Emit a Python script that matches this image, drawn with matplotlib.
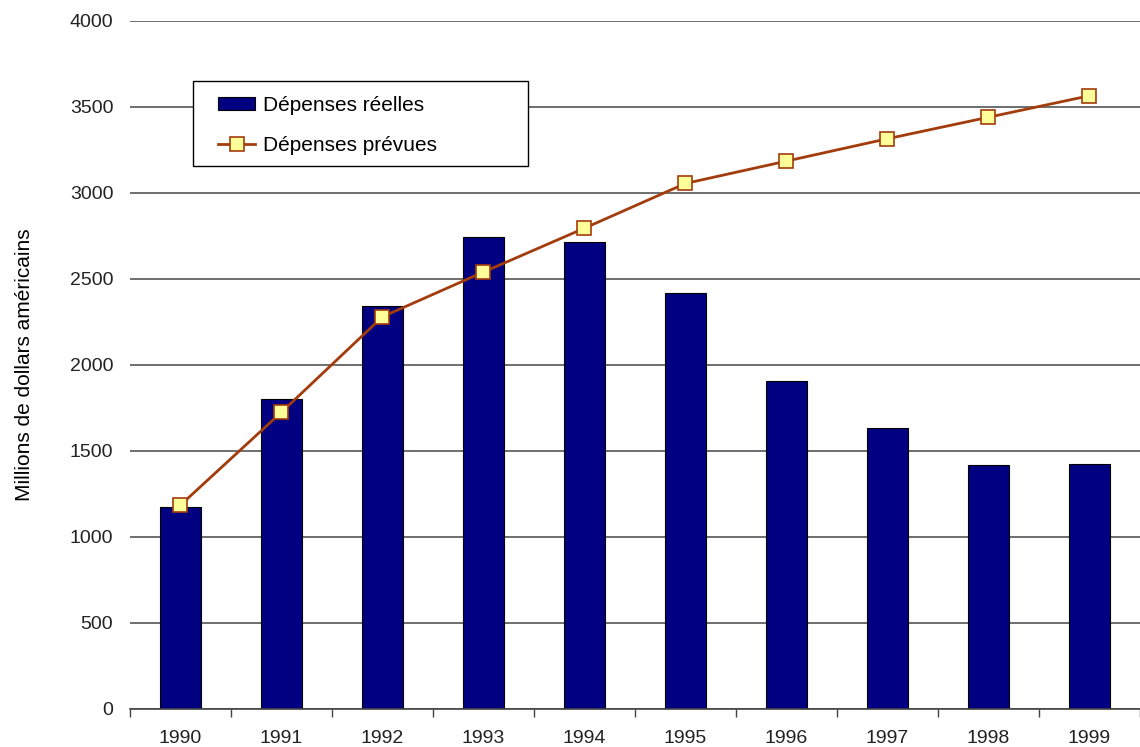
import matplotlib

matplotlib.use("Agg")

import matplotlib.pyplot as plt
from matplotlib.patches import Rectangle
import numpy as np

years = ["1990", "1991", "1992", "1993", "1994", "1995", "1996", "1997", "1998", "1999"]
actual_spending = [1175, 1800, 2345, 2745, 2715, 2420, 1905, 1635, 1420, 1425]
planned_spending = [1185, 1725, 2280, 2540, 2795, 3055, 3185, 3315, 3440, 3565]
y_ticks = [0, 500, 1000, 1500, 2000, 2500, 3000, 3500, 4000]

plt.rcParams["font.family"] = ["Liberation Sans", "DejaVu Sans"]

fig = plt.figure(figsize=(11.4, 7.47), dpi=100)
ax = fig.add_axes([0.114, 0.051, 0.886, 0.921])

x = np.arange(len(years))
bars = ax.bar(x, actual_spending, width=0.4, color="#000080", edgecolor="black",
              linewidth=0.8, label="Dépenses réelles", zorder=2)
line, = ax.plot(x, planned_spending, color="#A33C0C", linewidth=2, marker="s",
                markersize=10, markerfacecolor="#FFFF99", markeredgecolor="#A33C0C",
                markeredgewidth=1.2, label="Dépenses prévues", zorder=3)

ax.set_xlim(-0.5, len(years) - 0.5)
ax.set_ylim(0, 4000)
ax.set_yticks(y_ticks)
ax.set_yticklabels([str(v) for v in y_ticks], fontsize=14, color="#222222")
ax.set_xticks(x)
ax.set_xticklabels(years, fontsize=14, color="#222222")
ax.set_xticks(np.arange(len(years) + 1) - 0.5, minor=True)
ax.tick_params(axis="x", which="major", length=0, pad=15)
ax.tick_params(axis="x", which="minor", length=6, color="#444444", width=1)
ax.tick_params(axis="y", length=0, pad=12)

ax.grid(True, axis="y", color="#555555", linewidth=1.2, zorder=0)
ax.set_axisbelow(True)
for side in ("left", "right", "top"):
    ax.spines[side].set_visible(False)
ax.spines["bottom"].set_color("#444444")
ax.spines["bottom"].set_linewidth(1.2)

ax.set_ylabel("Millions de dollars américains", fontsize=15)
ax.yaxis.set_label_coords(-0.095, 0.5)

# legend frame drawn separately so the box can be wider than its entries
ax.add_patch(Rectangle((0.062, 0.789), 0.332, 0.124, transform=ax.transAxes,
                       facecolor="white", edgecolor="black", linewidth=1.0,
                       zorder=4))
ax.legend([bars, line], ["Dépenses réelles", "Dépenses prévues"],
          loc="upper left", bbox_to_anchor=(0.087, 0.891), fontsize=15,
          frameon=False, borderpad=0, labelspacing=1.0, handlelength=1.8,
          handleheight=0.6, handletextpad=0.35, borderaxespad=0).set_zorder(5)

fig.savefig("out.png", dpi=100)
